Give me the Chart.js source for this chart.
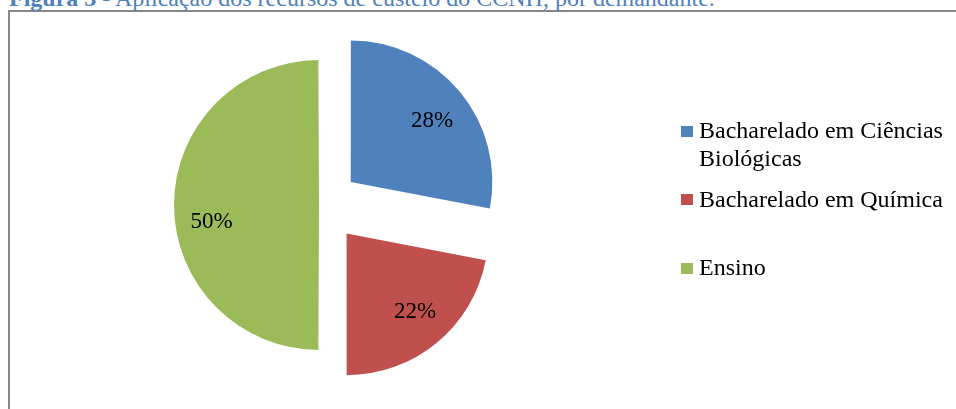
<!DOCTYPE html>
<html>
<head>
<meta charset="utf-8">
<script src="https://cdn.jsdelivr.net/npm/chart.js@4/dist/chart.umd.min.js"></script>
<style>
  html, body { margin: 0; padding: 0; background: #fff; }
  body { width: 956px; height: 409px; overflow: hidden; position: relative; }
  #frame { position: absolute; left: 8px; top: 10px; width: 1100px; height: 600px;
           border-left: 2px solid #878787; border-top: 2px solid #878787; }
  #title { position: absolute; left: 9px; top: -13.6px; font-family: "Liberation Serif", serif;
           font-size: 24px; line-height: 24px; color: #4F81BD; white-space: nowrap; }
  #c { position: absolute; left: 0; top: 0; }
  #legend { position: absolute; left: 681px; top: 0; font-family: "Liberation Serif", serif;
            font-size: 24px; line-height: 28px; color: #000; }
  .item { position: absolute; left: 0; white-space: nowrap; }
  .sw { position: absolute; left: 0; width: 12px; height: 11px; }
  .txt { position: absolute; left: 18px; top: 0; }
</style>
</head>
<body>
<div id="frame"></div>
<div id="title"><b>Figura 3</b> - Aplicação dos recursos de custeio do CCNH, por demandante.</div>
<canvas id="c" width="956" height="409"></canvas>
<div id="legend"></div>
<script>
// ---- data ----
const categories = ['Bacharelado em Ciências Biológicas', 'Bacharelado em Química', 'Ensino'];
const shares = [28, 22, 50];

// ---- styles ----
const colors = ['#4F81BD', '#C0504D', '#9BBB59'];
const sliceOffsets = [144, 148, 16];

const total = shares.reduce((a, b) => a + b, 0);

const labelPlugin = {
  id: 'sliceLabels',
  afterDatasetsDraw(chart, args, opts) {
    const meta = chart.getDatasetMeta(0);
    const ctx = chart.ctx;
    ctx.save();
    ctx.font = '23px "Liberation Serif"';
    ctx.fillStyle = '#000';
    ctx.textAlign = 'center';
    ctx.textBaseline = 'middle';
    meta.data.forEach((arc, i) => {
      const p = arc.getProps(['x', 'y', 'startAngle', 'endAngle', 'outerRadius'], true);
      const t = (arc.options.offset || 0) / 4;
      const mid = (p.startAngle + p.endAngle) / 2;
      const r = t + opts.radiusFactor * p.outerRadius;
      const n = opts.nudge[i] || [0, 0];
      const pct = Math.round(shares[i] / total * 100) + '%';
      ctx.fillText(pct, p.x + Math.cos(mid) * r + n[0], p.y + Math.sin(mid) * r + n[1]);
    });
    ctx.restore();
  }
};

new Chart(document.getElementById('c'), {
  type: 'pie',
  data: {
    labels: categories,
    datasets: [{
      data: shares,
      backgroundColor: colors,
      borderWidth: 0,
      offset: sliceOffsets,
      hoverOffset: 0
    }]
  },
  options: {
    responsive: false,
    animation: false,
    devicePixelRatio: 1,
    radius: 141,
    rotation: 0,
    layout: { padding: { left: 0, right: 310, top: 1, bottom: 0 } },
    events: [],
    plugins: {
      legend: { display: false },
      tooltip: { enabled: false },
      sliceLabels: { radiusFactor: 0.74, nudge: [[1, 5], [2, -2], [-3, 17]] }
    }
  },
  plugins: [labelPlugin]
});

// ---- legend (HTML text) ----
(function () {
  const legend = document.getElementById('legend');
  const mctx = document.createElement('canvas').getContext('2d');
  mctx.font = '24px "Liberation Serif"';
  const maxW = 250;
  function wrap(text) {
    const words = text.split(' ');
    const lines = [];
    let cur = '';
    words.forEach(w => {
      const test = cur ? cur + ' ' + w : w;
      if (cur && mctx.measureText(test).width > maxW) { lines.push(cur); cur = w; }
      else cur = test;
    });
    if (cur) lines.push(cur);
    return lines;
  }
  const firstTop = 116.4, step = 68.5;
  categories.forEach((name, i) => {
    const item = document.createElement('div');
    item.className = 'item';
    item.style.top = (firstTop + i * step) + 'px';
    const sw = document.createElement('div');
    sw.className = 'sw';
    sw.style.top = '9.6px';
    sw.style.background = colors[i];
    const txt = document.createElement('div');
    txt.className = 'txt';
    txt.innerHTML = wrap(name).join('<br>');
    item.appendChild(sw);
    item.appendChild(txt);
    legend.appendChild(item);
  });
})();
</script>
</body>
</html>
